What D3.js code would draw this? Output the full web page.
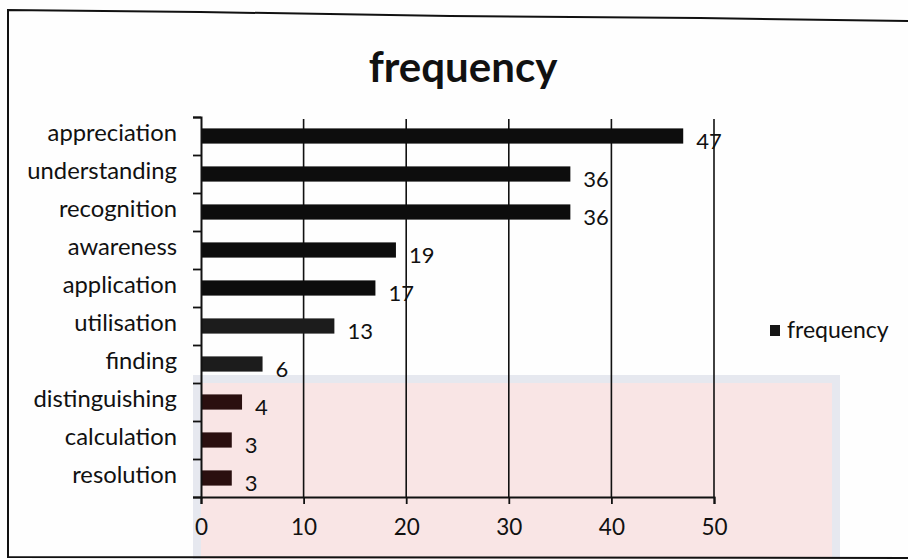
<!DOCTYPE html>
<html>
<head>
<meta charset="utf-8">
<script src="https://cdn.jsdelivr.net/npm/d3@7/dist/d3.min.js"></script>
<style>
  html, body { margin: 0; padding: 0; background: #fefefe; }
  svg { display: block; }
  text { font-family: Lato, "Open Sans", sans-serif; fill: #111; }
</style>
</head>
<body>
<svg id="chart" width="908" height="559"></svg>
<script>
// ---- data ----
const categories = ["appreciation", "understanding", "recognition", "awareness", "application",
                    "utilisation", "finding", "distinguishing", "calculation", "resolution"];
const values = [47, 36, 36, 19, 17, 13, 6, 4, 3, 3];
const xTicks = [0, 10, 20, 30, 40, 50];
const seriesName = "frequency";
const chartTitle = "frequency";

(function () {
const svg = d3.select("#chart");
const mL = 201, mR = 714, mT = 117, mB = 497;

// faint scanned background watermark panel
svg.append("rect").attr("x", 197).attr("y", 379).attr("width", 639).attr("height", 190)
  .attr("fill", "#f9e5e5").attr("stroke", "#e6e8ef").attr("stroke-width", 8);

// scanned outer border
svg.append("path")
  .attr("d", "M908,21 L700,18 L450,16 L200,12 L8,10 L8,557 L908,558")
  .attr("fill", "none").attr("stroke", "#111").attr("stroke-width", 2);

const x = d3.scaleLinear().domain([0, 50]).range([mL, mR]);
const y = d3.scaleBand().domain(categories).range([mT, mB]).paddingInner(0.6).paddingOuter(0.3);
const yTickScale = d3.scaleLinear().domain([0, categories.length]).range([mT, mB]);

// gridlines
svg.append("g").selectAll("line").data(xTicks.filter(t => t > 0)).join("line")
  .attr("x1", d => x(d)).attr("x2", d => x(d))
  .attr("y1", mT + 2).attr("y2", mB)
  .attr("stroke", "#111").attr("stroke-width", 1.6);

// bars
svg.append("g").selectAll("rect").data(values).join("rect")
  .attr("x", x(0))
  .attr("y", (d, i) => y(categories[i]))
  .attr("width", d => x(d) - x(0))
  .attr("height", y.bandwidth())
  .attr("fill", (d, i) => i < 5 ? "#0d0d0d" : (i < 7 ? "#1c1c1c" : "#2a0f0f"));

// value labels
svg.append("g").selectAll("text").data(values).join("text")
  .attr("x", d => x(d) + 13)
  .attr("y", (d, i) => y(categories[i]) + y.bandwidth() / 2 + 5)
  .attr("dy", "0.35em")
  .attr("font-size", 22)
  .text(d => d);

// y axis (ticks at category boundaries)
const yAxis = svg.append("g").attr("transform", `translate(${mL},0)`)
  .call(d3.axisLeft(yTickScale).ticks(10).tickSize(8).tickFormat(""));
yAxis.select(".domain").attr("stroke", "#111").attr("stroke-width", 2);
yAxis.selectAll(".tick line").attr("stroke", "#111").attr("stroke-width", 1.8);

// category labels
const yLab = svg.append("g").attr("transform", `translate(${mL},0)`)
  .call(d3.axisLeft(y).tickSize(0).tickPadding(24));
yLab.select(".domain").remove();
yLab.selectAll("text").attr("font-size", 23.8).attr("font-family", "Lato, sans-serif").attr("fill", "#111")
  .attr("dy", "0.2em");

// x axis
const xAxis = svg.append("g").attr("transform", `translate(0,${mB})`)
  .call(d3.axisBottom(x).tickValues(xTicks).tickSize(7).tickPadding(15));
xAxis.select(".domain").attr("stroke", "#111").attr("stroke-width", 2);
xAxis.selectAll(".tick line").attr("stroke", "#111").attr("stroke-width", 1.8);
xAxis.selectAll("text").attr("font-size", 22.5).attr("font-family", "Lato, sans-serif").attr("fill", "#111");

// title
svg.append("text").attr("x", 463).attr("y", 82).attr("text-anchor", "middle")
  .attr("font-size", 42).attr("font-weight", "bold").text(chartTitle);

// legend
svg.append("rect").attr("x", 770).attr("y", 325).attr("width", 10).attr("height", 11).attr("fill", "#151515");
svg.append("text").attr("x", 787).attr("y", 330).attr("dy", "0.35em").attr("font-size", 23).text(seriesName);
})();
</script>
</body>
</html>
